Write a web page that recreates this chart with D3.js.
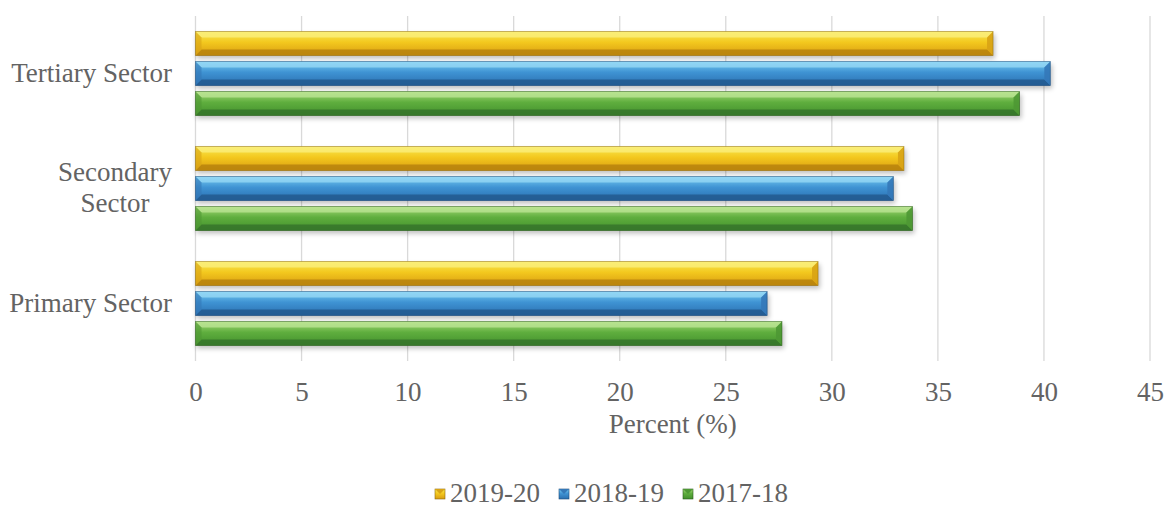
<!DOCTYPE html>
<html><head><meta charset="utf-8">
<script src="https://cdn.jsdelivr.net/npm/d3@7"></script>
<style>body{margin:0;background:#fff}svg{display:block}text{font-family:"Liberation Serif","Times New Roman",serif;fill:#636363}</style>
</head><body><svg id="c" width="1167" height="509"></svg>
<script>
const categories = ["Tertiary Sector", "Secondary Sector", "Primary Sector"];
const categoryLines = [["Tertiary Sector"], ["Secondary", "Sector"], ["Primary Sector"]];
const series = ["2019-20", "2018-19", "2017-18"];
const values2019_20 = [37.6, 33.4, 29.35];
const values2018_19 = [40.3, 32.9, 26.95];
const values2017_18 = [38.85, 33.8, 27.65];
const xTicks = [0, 5, 10, 15, 20, 25, 30, 35, 40, 45];
const xTitle = "Percent (%)";

(function(){
const seriesValues = [values2019_20, values2018_19, values2017_18];
const palettes = [
  {top:"#f8ea55", mid:"#f3c81e", bot:"#d99c10", hi:"#fbef80", lo:"#b47f0c", side:"#d8a315", edge:"#8d6a10"},
  {top:"#79cdf2", mid:"#3f93d3", bot:"#2a6fb0", hi:"#9ad9f6", lo:"#22578c", side:"#3478b8", edge:"#1c4a78"},
  {top:"#a8db7a", mid:"#5fae3e", bot:"#42902c", hi:"#bde597", lo:"#34722a", side:"#4e9834", edge:"#2b5c1c"}
];
const FS = "27px";

const svg = d3.select("#c");
const pl = 195.5, pr = 1150, pt = 16, pb = 361;
const x = d3.scaleLinear().domain([0, 45]).range([pl, pr]);
const y0 = d3.scaleBand().domain(categories).range([pt, pb]);
const y1 = d3.scaleBand().domain(series).range([15.5, 99.5]).paddingInner(0.2);

const defs = svg.append("defs");
palettes.forEach((p, i) => {
  const g = defs.append("linearGradient").attr("id", "g" + i).attr("x1", 0).attr("y1", 0).attr("x2", 0).attr("y2", 1);
  g.append("stop").attr("offset", "0%").attr("stop-color", p.top);
  g.append("stop").attr("offset", "45%").attr("stop-color", p.mid);
  g.append("stop").attr("offset", "100%").attr("stop-color", p.bot);
});
const f = defs.append("filter").attr("id", "sh").attr("x", "-5%").attr("y", "-30%").attr("width", "110%").attr("height", "180%");
f.append("feGaussianBlur").attr("stdDeviation", 2.5);

// gridlines
svg.append("g").selectAll("line").data(xTicks).join("line")
  .attr("x1", d => x(d)).attr("x2", d => x(d)).attr("y1", pt).attr("y2", pb)
  .attr("stroke", "#d9d9d9").attr("stroke-width", 1.3);

// x axis labels
const xAxis = d3.axisBottom(x).tickValues(xTicks).tickSize(0).tickPadding(0);
const ax = svg.append("g").attr("transform", `translate(0,${401})`).call(xAxis);
ax.select(".domain").remove();
ax.selectAll("text").attr("dy", 0).attr("y", 0).style("font-size", FS)
  .style("font-family", '"Liberation Serif",serif').attr("fill", "#636363");

svg.append("text").attr("x", (pl + pr) / 2).attr("y", 433).attr("text-anchor", "middle")
  .style("font-size", FS).text(xTitle);

// category labels
categories.forEach((c, i) => {
  const lines = categoryLines[i];
  const cy = y0(c) + y0.bandwidth() / 2;
  const lh = 31;
  const ts = lines.map((l, j) => svg.append("text")
      .attr("y", cy + (j - (lines.length - 1) / 2) * lh + 8)
      .attr("text-anchor", "middle")
      .style("font-size", FS).text(l));
  let w = 0; ts.forEach(t => { w = Math.max(w, t.node().getComputedTextLength()); });
  ts.forEach(t => t.attr("x", 172 - w / 2));
});

// bars
function bevelBar(g, x0, x1v, yy, h, p, gi) {
  const b = Math.min(6, (x1v - x0) / 2);
  g.append("rect").attr("x", x0 + 1).attr("y", yy + 3).attr("width", x1v - x0 + 1).attr("height", h)
    .attr("fill", "#000").attr("opacity", 0.25).attr("filter", "url(#sh)");
  g.append("rect").attr("x", x0).attr("y", yy).attr("width", x1v - x0).attr("height", h).attr("fill", `url(#g${gi})`);
  g.append("polygon").attr("points", [[x0, yy], [x1v, yy], [x1v - b, yy + b], [x0 + b, yy + b]].join(" "))
    .attr("fill", p.hi).attr("opacity", 0.75);
  g.append("polygon").attr("points", [[x0, yy + h], [x1v, yy + h], [x1v - b, yy + h - b], [x0 + b, yy + h - b]].join(" "))
    .attr("fill", p.lo).attr("opacity", 0.8);
  g.append("polygon").attr("points", [[x1v, yy], [x1v, yy + h], [x1v - b, yy + h - b], [x1v - b, yy + b]].join(" "))
    .attr("fill", p.side).attr("opacity", 0.9);
  g.append("polygon").attr("points", [[x0, yy], [x0, yy + h], [x0 + b, yy + h - b], [x0 + b, yy + b]].join(" "))
    .attr("fill", p.side).attr("opacity", 0.6);
  g.append("rect").attr("x", x0).attr("y", yy).attr("width", x1v - x0).attr("height", h)
    .attr("fill", "none").attr("stroke", p.edge).attr("stroke-width", 0.8).attr("opacity", 0.6);
}
const barsG = svg.append("g");
categories.forEach((c, ci) => {
  series.forEach((s, si) => {
    const v = seriesValues[si][ci];
    bevelBar(barsG, x(0), x(v), y0(c) + y1(s), y1.bandwidth(), palettes[si], si);
  });
});

// legend
const legendX = [435, 559, 683];
const lg = svg.append("g");
series.forEach((s, i) => {
  const lx = legendX[i], ly = 489;
  const p = palettes[i];
  lg.append("rect").attr("x", lx).attr("y", ly).attr("width", 10).attr("height", 10).attr("fill", `url(#g${i})`)
    .attr("stroke", p.edge).attr("stroke-width", 0.6);
  lg.append("polygon").attr("points", [[lx, ly], [lx + 10, ly], [lx + 5, ly + 5]].join(" ")).attr("fill", p.side);
  lg.append("text").attr("x", lx + 15).attr("y", 502).style("font-size", FS).text(s);
});
})();
</script></body></html>
